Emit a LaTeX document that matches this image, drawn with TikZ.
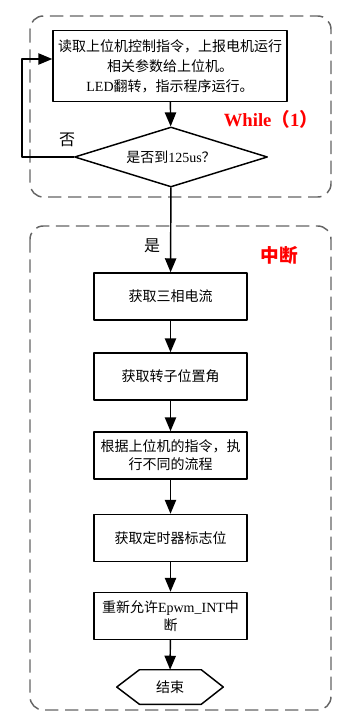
\documentclass[tikz,border=0pt]{standalone}
\usepackage{fontspec}
\setmainfont{Liberation Serif}
\newfontfamily\cjk{Noto Sans CJK SC}
\usetikzlibrary{shapes.geometric,arrows.meta}
\definecolor{framegray}{RGB}{100,100,100}

\begin{document}
\begin{tikzpicture}[x=0.75pt,y=-0.75pt,line cap=round,line join=round,
  every node/.style={font=\fontsize{10.5}{13.5}\selectfont},
  stepbox/.style={draw,line width=1.1pt,minimum width=114.75pt,
    minimum height=35.25pt,align=center,inner sep=1pt},
  arr/.style={line width=1.1pt,-{Triangle[length=10.5pt,width=8.5pt]}},
  group/.style={draw=framegray,line width=1.1pt,line cap=butt,
    dash pattern=on 10pt off 5pt,rounded corners=10pt},
  tag/.style={text=red,font=\fontsize{14}{16}\selectfont\bfseries}]
  \useasboundingbox (0,0) rectangle (353,727);
  % dashed frames of the main loop and the interrupt
  \draw[group] (30,16) rectangle (331,197);
  \draw[group] (30,226) rectangle (331,710);
  \node[tag] (wtag) at (271,119) {While{\cjk （}1{\cjk ）}};
  \node[tag] (itag) at (279,255) {\cjk 中断};
  % main loop
  \node[stepbox,minimum width=175.5pt,minimum height=53.25pt,
    font=\fontsize{10.5}{15}\selectfont] (read) at (170,66)
    {\cjk 读取上位机控制指令，上报电机运行\\
     \cjk 相关参数给上位机。\\
     LED{\cjk 翻转，指示程序运行。}};
  \node[draw,diamond,line width=1.1pt,aspect=3.2,inner sep=0pt,
    minimum width=144.75pt,minimum height=45pt] (wait) at (171,157)
    {{\cjk 是否到}125us{\cjk ？}};
  \coordinate (back) at (22,59);
  \draw[arr] (read) -- (wait);
  \draw[arr] (wait.west) -| (back) -- (back -| read.west);
  \node (no) at (67,140) {\fontsize{12}{14}\selectfont\cjk 否};
  % interrupt service
  \node[stepbox] (curr) at (170.5,296.5) {\cjk 获取三相电流};
  \node[stepbox] (angle) at (170.5,376.5) {\cjk 获取转子位置角};
  \node[stepbox] (cmd) at (170.5,455.5)
    {\cjk 根据上位机的指令，执\\ \cjk 行不同的流程};
  \node[stepbox] (flag) at (170.5,538) {\cjk 获取定时器标志位};
  \node[stepbox] (irq) at (170.5,616)
    {{\cjk 重新允许}Epwm\_INT{\cjk 中}\\ \cjk 断};
  \node[minimum width=79.5pt,minimum height=25.5pt] (stop) at (170,687)
    {\cjk 结束};
  \draw[line width=1.1pt] (stop.west) -- ([xshift=17pt]stop.north west)
    -- ([xshift=-16.5pt]stop.north east) -- (stop.east)
    -- ([xshift=-16.5pt]stop.south east) -- ([xshift=17pt]stop.south west)
    -- cycle;
  \node (yes) at (152,246) {\fontsize{12}{14}\selectfont\cjk 是};
  \draw[arr] (wait) -- (curr);
  \draw[arr] (curr) -- (angle);
  \draw[arr] (angle) -- (cmd);
  \draw[arr] (cmd) -- (flag);
  \draw[arr] (flag) -- (irq);
  \draw[arr] (irq) -- (stop);
\end{tikzpicture}
\end{document}
